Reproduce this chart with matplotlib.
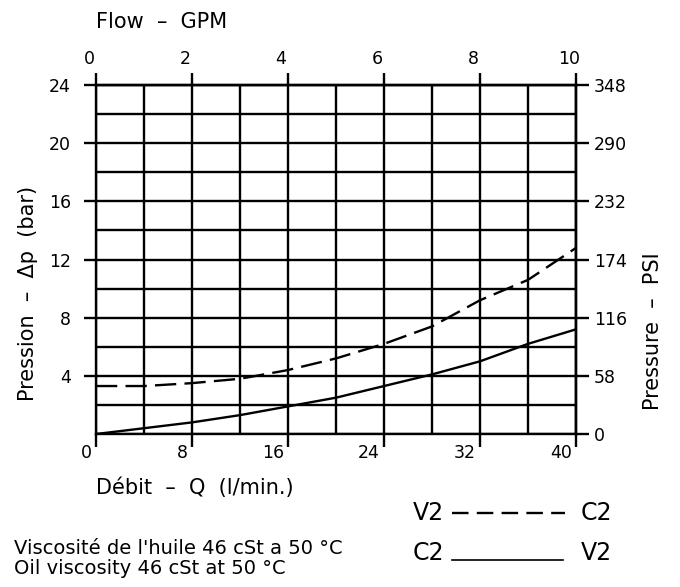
import matplotlib
matplotlib.use("Agg")
import matplotlib.pyplot as plt
from matplotlib.transforms import ScaledTranslation
from matplotlib.lines import Line2D

# flow in l/min and pressure drop in bar
flow_lpm = [0, 4, 8, 12, 16, 20, 24, 28, 32, 36, 40]
dp_v2_c2 = [3.3, 3.3, 3.5, 3.8, 4.4, 5.2, 6.2, 7.4, 9.2, 10.6, 12.8]
dp_c2_v2 = [0.0, 0.4, 0.8, 1.3, 1.9, 2.5, 3.3, 4.1, 5.0, 6.2, 7.2]

x_ticks = [0, 8, 16, 24, 32, 40]
y_ticks = [4, 8, 12, 16, 20, 24]
gpm_ticks = [0, 2, 4, 6, 8, 10]
psi_ticks = [0, 58, 116, 174, 232, 290, 348]

LW = 1.7
TICK_FS = 12.5
plt.rcParams['font.family'] = ['DejaVu Sans']

fig = plt.figure(figsize=(6.8, 5.87), dpi=100)
ax = fig.add_axes([0.1412, 0.2606, 0.7059, 0.5946])

ax.set_xlim(0, 40)
ax.set_ylim(0, 24)

# grid every 4 l/min and every 2 bar
for x in range(0, 41, 4):
    ax.axvline(x, color='black', lw=LW, zorder=1)
for y in range(0, 25, 2):
    ax.axhline(y, color='black', lw=LW, zorder=1)

ax.plot(flow_lpm, dp_v2_c2, color='black', lw=LW, linestyle=(0, (9, 3.5)), zorder=3)
ax.plot(flow_lpm, dp_c2_v2, color='black', lw=LW, zorder=3)

for s in ax.spines.values():
    s.set_linewidth(LW)

ax.set_xticks(x_ticks)
ax.set_xticklabels([str(v) for v in x_ticks])
ax.set_yticks(y_ticks)
ax.set_yticklabels([str(v) for v in y_ticks])
ax.tick_params(direction='out', length=9, width=LW, labelsize=TICK_FS)
ax.tick_params(axis='x', pad=-2)
ax.tick_params(axis='y', pad=9)

off = ScaledTranslation(-3 / 72, 0, fig.dpi_scale_trans)
for lab in ax.get_xticklabels():
    lab.set_horizontalalignment('right')
    lab.set_transform(lab.get_transform() + off)

# secondary scales: GPM on top, PSI on the right
top = ax.secondary_xaxis('top', functions=(lambda q: q / 4.0, lambda g: g * 4.0))
top.set_xticks(gpm_ticks)
top.tick_params(direction='out', length=9, width=LW, labelsize=TICK_FS, pad=3)
top.spines['top'].set_linewidth(LW)
off2 = ScaledTranslation(-5 / 72, 0, fig.dpi_scale_trans)
for lab in top.get_xticklabels():
    lab.set_transform(lab.get_transform() + off2)

right = ax.secondary_yaxis('right', functions=(lambda b: b * 14.5, lambda p: p / 14.5))
right.set_yticks(psi_ticks)
right.tick_params(direction='out', length=9, width=LW, labelsize=TICK_FS, pad=4)
right.spines['right'].set_linewidth(LW)

fig.text(96 / 680, 1 - 22 / 587, 'Flow  –  GPM', fontsize=15, ha='left', va='center')
fig.text(28 / 680, 1 - 293 / 587, 'Pression  –  Δp  (bar)', fontsize=15,
         rotation=90, ha='center', va='center')
fig.text(653 / 680, 1 - 331 / 587, 'Pressure  –  PSI', fontsize=15,
         rotation=90, ha='center', va='center')
fig.text(96 / 680, 1 - 488 / 587, 'Débit  –  Q  (l/min.)', fontsize=15,
         ha='left', va='center')

fig.text(14 / 680, 1 - 549 / 587, "Viscosité de l'huile 46 cSt a 50 °C", fontsize=14,
         ha='left', va='center')
fig.text(14 / 680, 1 - 569 / 587, "Oil viscosity 46 cSt at 50 °C", fontsize=14,
         ha='left', va='center')

# legend drawn by hand: port names either side of a line sample
fig.text(413 / 680, 1 - 513 / 587, 'V2', fontsize=17, ha='left', va='center')
fig.text(612 / 680, 1 - 513 / 587, 'C2', fontsize=17, ha='right', va='center')
fig.add_artist(Line2D([452 / 680, 565 / 680], [1 - 513 / 587, 1 - 513 / 587],
                      transform=fig.transFigure, color='black', lw=LW,
                      linestyle=(0, (7, 3.5))))
fig.text(413 / 680, 1 - 553 / 587, 'C2', fontsize=17, ha='left', va='center')
fig.text(612 / 680, 1 - 553 / 587, 'V2', fontsize=17, ha='right', va='center')
fig.add_artist(Line2D([452 / 680, 563 / 680], [1 - 560 / 587, 1 - 560 / 587],
                      transform=fig.transFigure, color='black', lw=1.2))

fig.savefig('out.png', dpi=100, facecolor='white')
